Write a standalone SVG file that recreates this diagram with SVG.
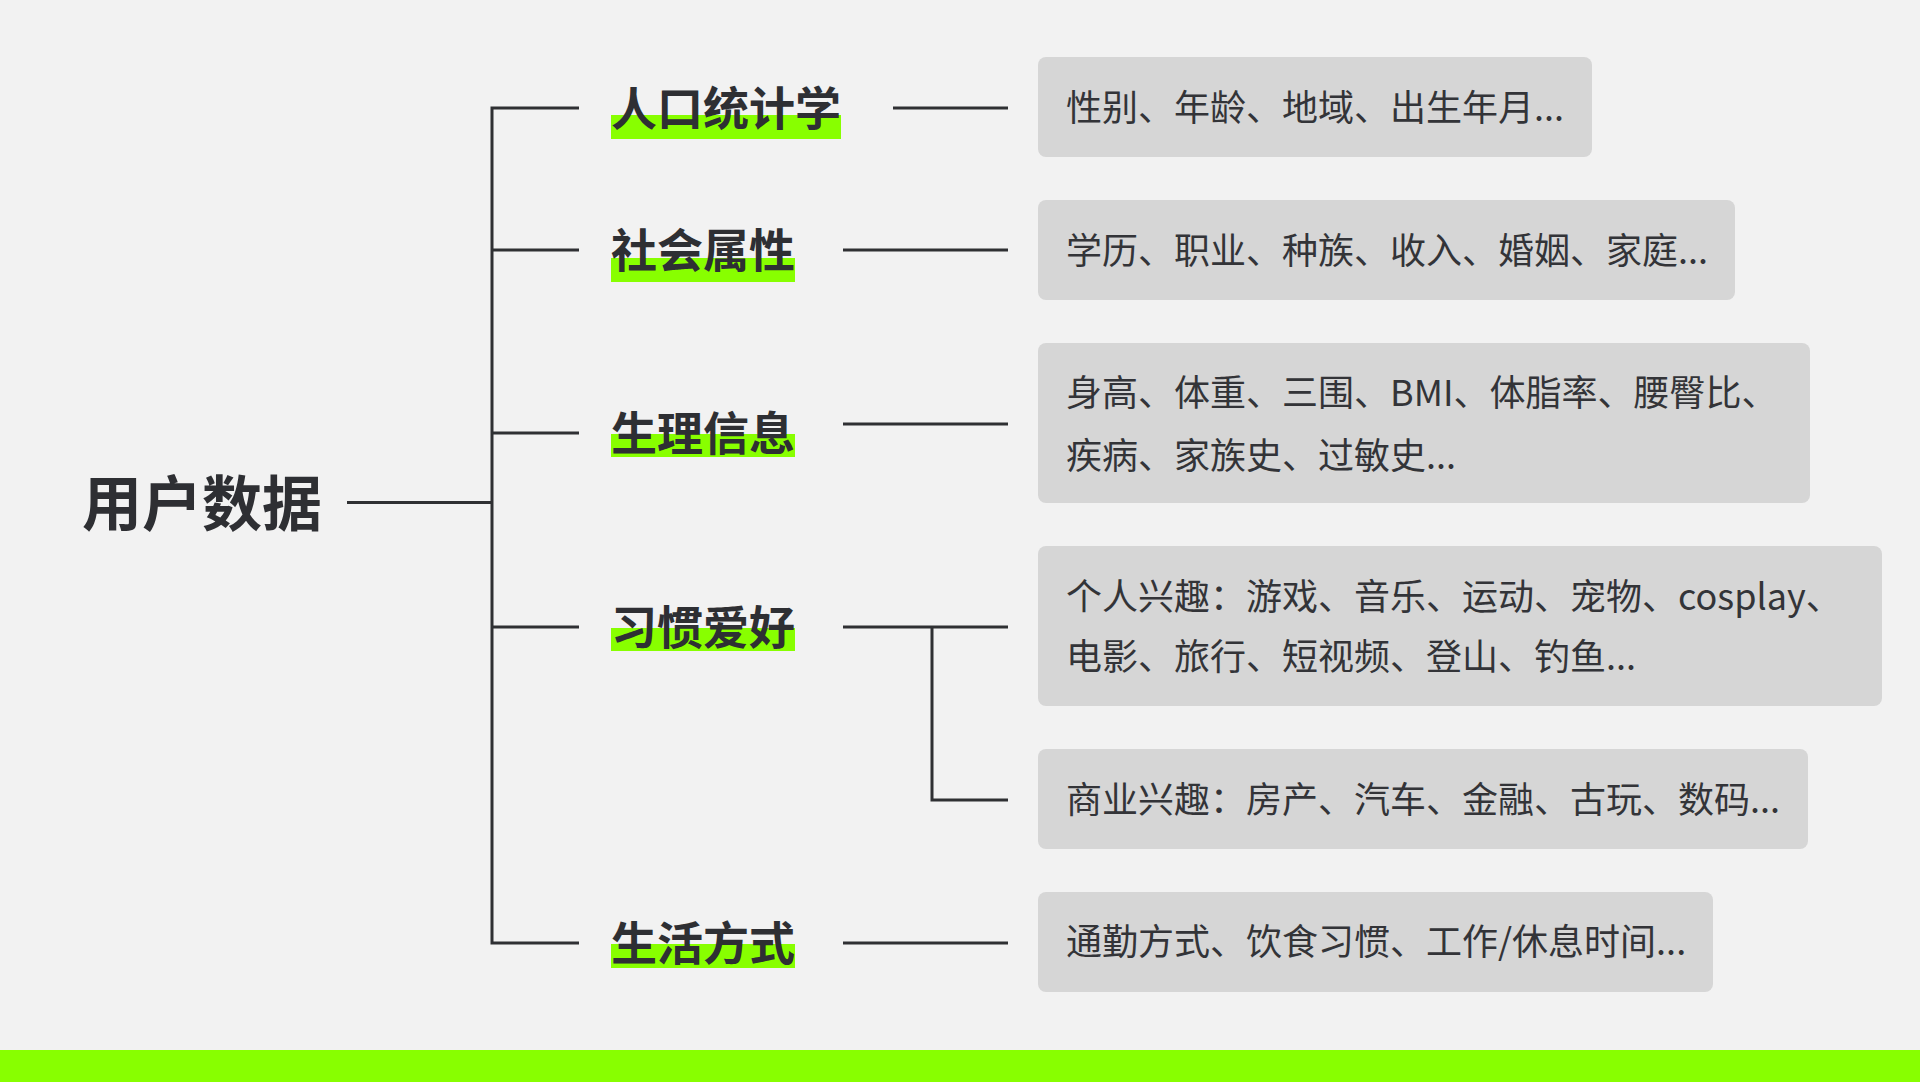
<svg xmlns="http://www.w3.org/2000/svg" width="1920" height="1082" viewBox="0 0 1920 1082">
<style>
.bg{fill:#f2f2f2}
.hl{fill:#88ff00}
.box{fill:#d6d6d6}
.root{font-family:"Noto Sans CJK SC","Noto Sans",sans-serif;font-weight:700;font-size:60px;fill:#2e2f33}
.cat{font-family:"Noto Sans CJK SC","Noto Sans",sans-serif;font-weight:700;font-size:46px;fill:#2e2f33}
.txt{font-family:"Noto Sans CJK SC","Noto Sans",sans-serif;font-weight:400;font-size:36px;fill:#333438}
.ln{stroke:#2f3033;stroke-width:3;fill:none}
</style>
<rect class="bg" x="0" y="0" width="1920" height="1082"/>
<rect class="hl" x="0" y="1050" width="1920" height="32"/>
<g id="connectors">
<path class="ln" d="M347 502.5H492"/>
<path class="ln" d="M579 108H492V943H579"/>
<path class="ln" d="M492 250H579"/>
<path class="ln" d="M492 433H579"/>
<path class="ln" d="M492 627H579"/>
<path class="ln" d="M893 108H1008"/>
<path class="ln" d="M843 250H1008"/>
<path class="ln" d="M843 424H1008"/>
<path class="ln" d="M843 627H1008"/>
<path class="ln" d="M932 627V800H1008"/>
<path class="ln" d="M843 943H1008"/>
</g>
<g id="root">
<text class="root" x="82" y="525.5">用户数据</text>
</g>
<g id="cat1">
<rect class="hl" x="611" y="115" width="230" height="24"/>
<text class="cat" x="611" y="125">人口统计学</text>
</g>
<g id="cat2">
<rect class="hl" x="611" y="258" width="184" height="24"/>
<text class="cat" x="611" y="267">社会属性</text>
</g>
<g id="cat3">
<rect class="hl" x="611" y="434" width="184" height="23"/>
<text class="cat" x="611" y="449.5">生理信息</text>
</g>
<g id="cat4">
<rect class="hl" x="611" y="628" width="184" height="23"/>
<text class="cat" x="611" y="644">习惯爱好</text>
</g>
<g id="cat5">
<rect class="hl" x="611" y="944" width="184" height="24"/>
<text class="cat" x="611" y="960">生活方式</text>
</g>
<g id="box1">
<rect class="box" x="1038" y="57" width="554" height="100" rx="8"/>
<text class="txt" x="1066" y="120.5">性别、年龄、地域、出生年月...</text>
</g>
<g id="box2">
<rect class="box" x="1038" y="200" width="697" height="100" rx="8"/>
<text class="txt" x="1066" y="263.5">学历、职业、种族、收入、婚姻、家庭...</text>
</g>
<g id="box3">
<rect class="box" x="1038" y="343" width="772" height="160" rx="8"/>
<text class="txt" x="1066" y="405.5">身高、体重、三围、BMI、体脂率、腰臀比、</text>
<text class="txt" x="1066" y="468.5">疾病、家族史、过敏史...</text>
</g>
<g id="box4">
<rect class="box" x="1038" y="546" width="844" height="160" rx="8"/>
<text class="txt" x="1066" y="609.5">个人兴趣：游戏、音乐、运动、宠物、cosplay、</text>
<text class="txt" x="1066" y="669.5">电影、旅行、短视频、登山、钓鱼...</text>
</g>
<g id="box5">
<rect class="box" x="1038" y="749" width="770" height="100" rx="8"/>
<text class="txt" x="1066" y="812.5">商业兴趣：房产、汽车、金融、古玩、数码...</text>
</g>
<g id="box6">
<rect class="box" x="1038" y="892" width="675" height="100" rx="8"/>
<text class="txt" x="1066" y="955">通勤方式、饮食习惯、工作/休息时间...</text>
</g>
</svg>
